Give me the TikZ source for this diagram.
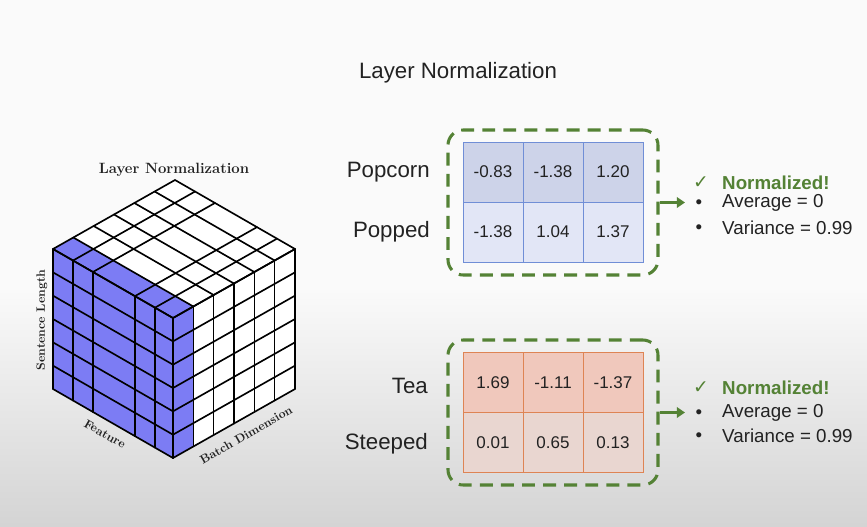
\documentclass[tikz,border=0pt]{standalone}
\usepackage{fontspec}
\newfontfamily\arialf{Liberation Sans}
\newfontfamily\djv{DejaVu Sans}
\usetikzlibrary{arrows.meta}
\definecolor{gr}{RGB}{84,130,53}
\definecolor{txt}{RGB}{34,34,34}
\definecolor{cubeblue}{RGB}{124,124,244}
\definecolor{bA}{RGB}{205,211,233}
\definecolor{bB}{RGB}{226,230,246}
\definecolor{bBd}{RGB}{112,142,214}
\definecolor{oA}{RGB}{240,200,188}
\definecolor{oB}{RGB}{233,214,208}
\definecolor{oBd}{RGB}{222,132,84}
\definecolor{bgbot}{RGB}{212,212,212}
\tikzset{
  cl/.style={line width=1.4pt,black,line join=round,line cap=round},
  cellb/.style={draw=bBd,line width=0.8pt,minimum width=1.8cm,minimum height=1.8cm,inner sep=0pt,
     font=\arialf\fontsize{14.5}{16}\selectfont,text=txt},
  cello/.style={cellb,draw=oBd},
  dbox/.style={draw=gr,line width=2.6pt,dash pattern=on 11pt off 7pt,rounded corners=13pt,
     minimum width=6.3cm,minimum height=4.35cm,inner sep=0pt},
  rowlab/.style={anchor=east,inner sep=0pt,font=\arialf\fontsize{19}{22}\selectfont,text=txt},
  arr/.style={draw=gr,line width=2.2pt,-{Triangle[length=7pt,width=9pt]}},
  listt/.style={anchor=west,inner sep=0pt,font=\arialf\fontsize{16}{18}\selectfont,text=txt},
  normt/.style={listt,font=\arialf\bfseries\fontsize{16}{18}\selectfont,text=gr},
  chk/.style={inner sep=0pt,font=\djv\fontsize{16}{18}\selectfont,text=gr},
  bul/.style={inner sep=0pt,font=\arialf\fontsize{16}{18}\selectfont,text=txt},
  cubelab/.style={inner sep=0pt,font=\bfseries\fontsize{10.3}{12}\selectfont,text=txt}
}
\begin{document}
\begin{tikzpicture}[x=0.03cm,y=-0.03cm]
\useasboundingbox (0,0) rectangle (867,526);
% background
\fill[white!98!black] (0,0) rectangle (867,290);
\shade[top color=white!98!black,bottom color=bgbot] (0,290) rectangle (867,526);

% title
\node[inner sep=0pt,font=\arialf\fontsize{19}{22}\selectfont,text=txt] (title) at (458,73) {Layer Normalization};

% ---------- cube ----------
% faces
\fill[cubeblue] (53,249) -- (173,318) -- (173,458) -- (53,389) -- cycle;
\fill[white] (53,249) -- (173,318) -- (295,249) -- (175,180) -- cycle;
\fill[cubeblue] (53,249) -- (173,318) -- (193.33,306.5) -- (73.33,237.5) -- cycle;
\fill[white] (173,318) -- (295,249) -- (295,389) -- (173,458) -- cycle;
\fill[cubeblue] (173,318) -- (193.33,306.5) -- (193.33,446.5) -- (173,458) -- cycle;
% grid lines
\foreach \f in {0,0.167,0.333,0.683,0.85,1}{
  \draw[cl] ({53+\f*120},{249+\f*69}) -- ++(0,140);
  \draw[cl] ({53+\f*120},{249+\f*69}) -- ++(122,-69);
}
\foreach \k in {0,...,6}{
  \draw[cl] (53,{249+\k*140/6}) -- ++(120,69);
  \draw[cl] ({53+\k*122/6},{249-\k*69/6}) -- ++(120,69);
  \draw[cl] ({173+\k*122/6},{318-\k*69/6}) -- ++(0,140);
  \draw[cl] (173,{318+\k*140/6}) -- ++(122,-69);
}
% cube labels
\node[inner sep=0pt,font=\bfseries\fontsize{12.7}{14}\selectfont,text=txt] (ctitle) at (174,170) {Layer Normalization};
\node[cubelab,rotate=90] (slen) at (42,320) {Sentence Length};
\node[cubelab,rotate=-30] (feat) at (105,434) {Feature};
\node[cubelab,rotate=30] (batch) at (246,435) {Batch Dimension};

% ---------- top table ----------
\node[dbox] (box1) at (553,202.5) {};
\node[cellb,fill=bA] (p11) at (493,172) {-0.83};
\node[cellb,fill=bA] (p12) at (553,172) {-1.38};
\node[cellb,fill=bA] (p13) at (613,172) {1.20};
\node[cellb,fill=bB] (p21) at (493,232) {-1.38};
\node[cellb,fill=bB] (p22) at (553,232) {1.04};
\node[cellb,fill=bB] (p23) at (613,232) {1.37};
\node[rowlab] (popcorn) at (430,172) {Popcorn};
\node[rowlab] (popped) at (430,232) {Popped};
\coordinate (a1) at (685,202.5);
\draw[arr] (box1.east) -- (a1);
\node[chk] (c1) at (701,183) {✓};
\node[normt] (n1) at (722,183) {Normalized!};
\node[bul] (b11) at (699,204) {•};
\node[listt] (l11) at (722,203) {Average = 0};
\node[bul] (b12) at (699,229) {•};
\node[listt] (l12) at (722,228) {Variance = 0.99};

% ---------- bottom table ----------
\node[dbox] (box2) at (553,412.5) {};
\node[cello,fill=oA] (t11) at (493,382.5) {1.69};
\node[cello,fill=oA] (t12) at (553,382.5) {-1.11};
\node[cello,fill=oA] (t13) at (613,382.5) {-1.37};
\node[cello,fill=oB] (t21) at (493,442.5) {0.01};
\node[cello,fill=oB] (t22) at (553,442.5) {0.65};
\node[cello,fill=oB] (t23) at (613,442.5) {0.13};
\node[rowlab] (tea) at (428,386) {Tea};
\node[rowlab] (steeped) at (428,444) {Steeped};
\coordinate (a2) at (685,412.5);
\draw[arr] (box2.east) -- (a2);
\node[chk] (c2) at (701,388) {✓};
\node[normt] (n2) at (722,388) {Normalized!};
\node[bul] (b21) at (699,414) {•};
\node[listt] (l21) at (722,413) {Average = 0};
\node[bul] (b22) at (699,437) {•};
\node[listt] (l22) at (722,436) {Variance = 0.99};
\end{tikzpicture}
\end{document}
